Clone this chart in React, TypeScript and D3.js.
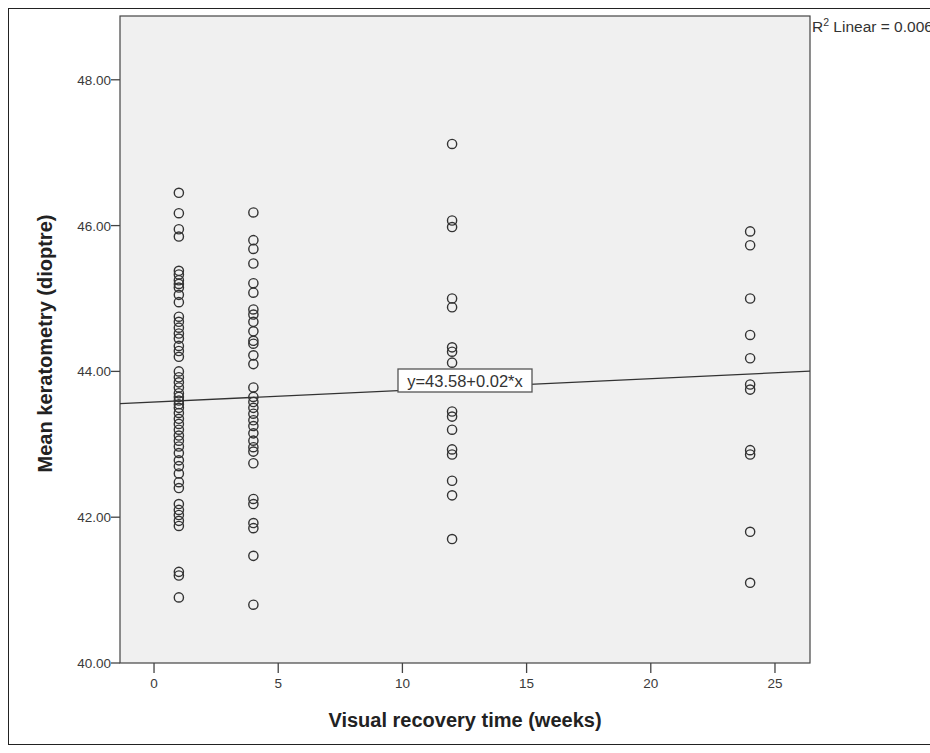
import React from "react";
import * as d3 from "d3";

const weeks = [1, 4, 12, 24];
const week1Values = [46.45, 46.17, 45.95, 45.85, 45.38, 45.33, 45.25, 45.2, 45.15, 45.05, 44.95, 44.75, 44.68, 44.6, 44.52, 44.45, 44.35, 44.28, 44.2, 44.0, 43.92, 43.85, 43.78, 43.7, 43.65, 43.6, 43.55, 43.5, 43.43, 43.35, 43.28, 43.2, 43.12, 43.05, 42.97, 42.88, 42.78, 42.7, 42.6, 42.48, 42.4, 42.18, 42.1, 42.03, 41.95, 41.88, 41.25, 41.2, 40.9];
const week4Values = [46.18, 45.8, 45.68, 45.48, 45.21, 45.08, 44.85, 44.78, 44.68, 44.55, 44.42, 44.38, 44.22, 44.1, 43.78, 43.65, 43.58, 43.5, 43.42, 43.33, 43.25, 43.15, 43.05, 42.96, 42.9, 42.74, 42.25, 42.18, 41.92, 41.85, 41.47, 40.8];
const week12Values = [47.12, 46.07, 45.98, 45.0, 44.88, 44.33, 44.27, 44.12, 43.45, 43.38, 43.2, 42.93, 42.86, 42.5, 42.3, 41.7];
const week24Values = [45.92, 45.73, 45.0, 44.5, 44.18, 43.82, 43.75, 42.92, 42.86, 41.8, 41.1];
const seriesValues = [week1Values, week4Values, week12Values, week24Values];

const xTicks = [0, 5, 10, 15, 20, 25];
const yTicks = [40, 42, 44, 46, 48];
const fitIntercept = 43.58;
const fitSlope = 0.016;
const fitLabel = "y=43.58+0.02*x";
const r2Label = "0.006";

export default function App() {
  const left = 120, right = 810, top = 16, bottom = 663;
  const x = d3.scaleLinear().domain([-1.37, 26.41]).range([left, right]);
  const y = d3.scaleLinear().domain([40, 48.875]).range([bottom, top]);
  const font = "'Liberation Sans', Arial, sans-serif";
  const points = seriesValues.flatMap((vals, i) => vals.map((v) => ({ wx: weeks[i], v })));
  const [d0, d1] = x.domain();
  const lineGen = d3.line<number>().x((d) => x(d)).y((d) => y(fitIntercept + fitSlope * d));
  const boxRight = 532, boxLeft = 398, boxTop = 369, boxBottom = 392;
  return (
    <svg width={930} height={753} style={{ position: "absolute", left: 0, top: 0, background: "#fff" }} fontFamily={font}>
      <rect x={8.5} y={8.5} width={930} height={736} fill="none" stroke="#222" strokeWidth={1} />
      <rect x={left} y={top} width={right - left} height={bottom - top} fill="#f0f0f0" stroke="#444" strokeWidth={1.2} />
      {points.map((p, i) => (
        <circle key={i} cx={x(p.wx)} cy={y(p.v)} r={4.6} fill="none" stroke="#333" strokeWidth={1.4} />
      ))}
      <path d={lineGen([d0, d1]) || ""} fill="none" stroke="#333" strokeWidth={1.3} />
      <rect x={boxLeft} y={boxTop} width={boxRight - boxLeft} height={boxBottom - boxTop} fill="#fff" stroke="#555" strokeWidth={1.3} />
      <text x={(boxLeft + boxRight) / 2} y={(boxTop + boxBottom) / 2 + 6} textAnchor="middle" fontSize={16.5} fill="#333">{fitLabel}</text>
      {yTicks.map((t) => (
        <g key={t}>
          <line x1={left - 9} x2={left} y1={y(t)} y2={y(t)} stroke="#444" strokeWidth={1.3} />
          <text x={left - 9} y={y(t) + 5} textAnchor="end" fontSize={13.5} fill="#3a3a3a">{t.toFixed(2)}</text>
        </g>
      ))}
      {xTicks.map((t) => (
        <g key={t}>
          <line x1={x(t)} x2={x(t)} y1={bottom} y2={bottom + 10} stroke="#444" strokeWidth={1.3} />
          <text x={x(t)} y={bottom + 25} textAnchor="middle" fontSize={13.5} fill="#3a3a3a">{t}</text>
        </g>
      ))}
      <text x={(left + right) / 2} y={727} textAnchor="middle" fontSize={20} fontWeight="bold" fill="#222">Visual recovery time (weeks)</text>
      <text transform={`translate(52,${(top + bottom) / 2 + 4}) rotate(-90)`} textAnchor="middle" fontSize={20} fontWeight="bold" fill="#222">Mean keratometry (dioptre)</text>
      <text x={right + 2} y={32} fontSize={15.5} fill="#333">R<tspan dy={-6} fontSize={10.5}>2</tspan><tspan dy={6}> Linear = {r2Label}</tspan></text>
    </svg>
  );
}
